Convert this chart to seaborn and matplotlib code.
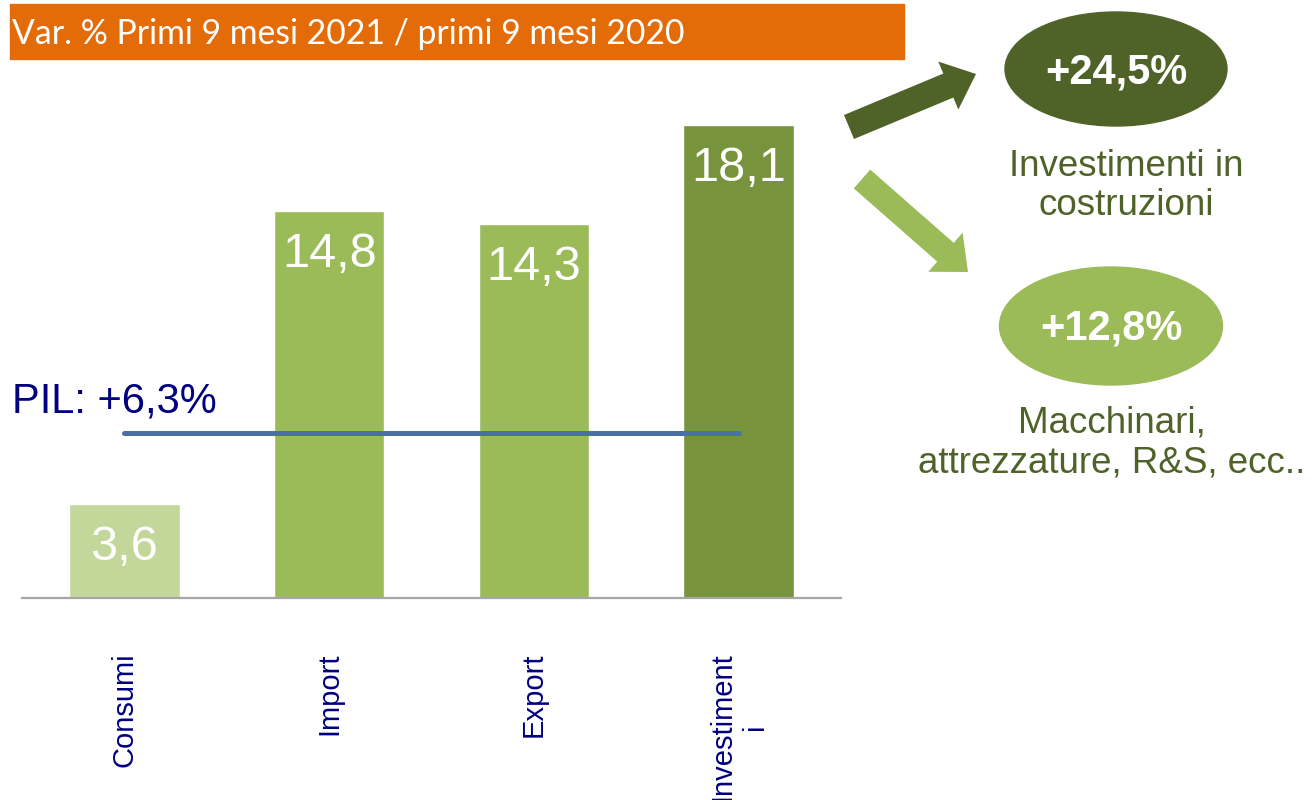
import matplotlib
matplotlib.use("Agg")
import matplotlib.pyplot as plt
from matplotlib.patches import Ellipse, FancyArrow, Rectangle
import seaborn as sns

# data
categories = ["Consumi", "Import", "Export", "Investimenti"]
tick_labels = ["Consumi", "Import", "Export", "Investiment\ni"]
values = [3.6, 14.8, 14.3, 18.1]
bar_colors = ["#C4D79B", "#9BBB59", "#9BBB59", "#77933C"]
pil_value = 6.3
title = "Var. % Primi 9 mesi 2021 / primi 9 mesi 2020"
sub_values = ["+24,5%", "+12,8%"]
sub_labels = ["Investimenti in\ncostruzioni", "Macchinari,\nattrezzature, R&S, ecc.."]

sns.set_theme(style="white")
plt.rcParams["font.family"] = ["Liberation Sans", "DejaVu Sans"]

W, H = 1313, 800
fig = plt.figure(figsize=(W / 100, H / 100), dpi=100)

# main bar chart
ax = fig.add_axes([22 / W, (H - 598) / H, (841 - 22) / W, 496.5 / H])
sns.barplot(x=categories, y=values, hue=categories, palette=bar_colors,
            width=0.54, saturation=1, legend=False, ax=ax)
ax.set_xlim(-0.5, 3.5)
ax.set_ylim(0, 19)
ax.set_xlabel("")
ax.set_ylabel("")
ax.set_yticks([])
for s in ["top", "left", "right"]:
    ax.spines[s].set_visible(False)
ax.spines["bottom"].set_color("#A6A6A6")
ax.spines["bottom"].set_linewidth(1.6)
ax.set_xticks(range(len(categories)))
ax.set_xticklabels(tick_labels, rotation=90, fontsize=21, color="#000080")
for lab in ax.get_xticklabels():
    lab.set_multialignment("center")
ax.tick_params(axis="x", length=0, pad=39)

for p, v in zip(ax.patches, values):
    ax.annotate(f"{v:.1f}".replace(".", ","),
                (p.get_x() + p.get_width() / 2, p.get_height()),
                xytext=(0, -15), textcoords="offset points",
                ha="center", va="top", fontsize=35, color="white")

# PIL line
ax.plot([0, 3], [pil_value, pil_value], color="#4A70A8", lw=3.6,
        solid_capstyle="round", zorder=5)

# overlay in pixel coords for decorations
ov = fig.add_axes([0, 0, 1, 1])
ov.set_xlim(0, W)
ov.set_ylim(H, 0)
ov.axis("off")
ov.patch.set_alpha(0)

ov.add_patch(Rectangle((10, 4), 894, 55, color="#E36C09"))
ov.text(12, 34, title, fontsize=24.3, color="white", va="center", ha="left",
        family=["Lato", "DejaVu Sans"])

ov.text(12, 413, f"PIL: +{pil_value:.1f}%".replace(".", ","), fontsize=30,
        color="#000080", va="baseline", ha="left")

# arrows
ov.add_patch(FancyArrow(849, 127, 976 - 849, 74 - 127, width=26, head_width=52,
                        head_length=30, length_includes_head=True,
                        color="#4F6228", lw=0))
ov.add_patch(FancyArrow(862, 179, 968 - 862, 272 - 179, width=25, head_width=52,
                        head_length=30, length_includes_head=True,
                        color="#9BBB59", lw=0))

# ellipses
ov.add_patch(Ellipse((1116, 69), 222, 114, color="#4F6228"))
ov.text(1116, 72, sub_values[0], fontsize=30, fontweight="bold", color="white",
        ha="center", va="center")
ov.add_patch(Ellipse((1111, 326), 223, 118, color="#9BBB59"))
ov.text(1111, 329, sub_values[1], fontsize=30, fontweight="bold", color="white",
        ha="center", va="center")

ov.text(1126, 186, sub_labels[0], fontsize=26.5, color="#4F6228",
        ha="center", va="center", linespacing=1.15)
ov.text(1112, 443, sub_labels[1], fontsize=26.5, color="#4F6228",
        ha="center", va="center", linespacing=1.15)

fig.savefig("out.png", dpi=100)
